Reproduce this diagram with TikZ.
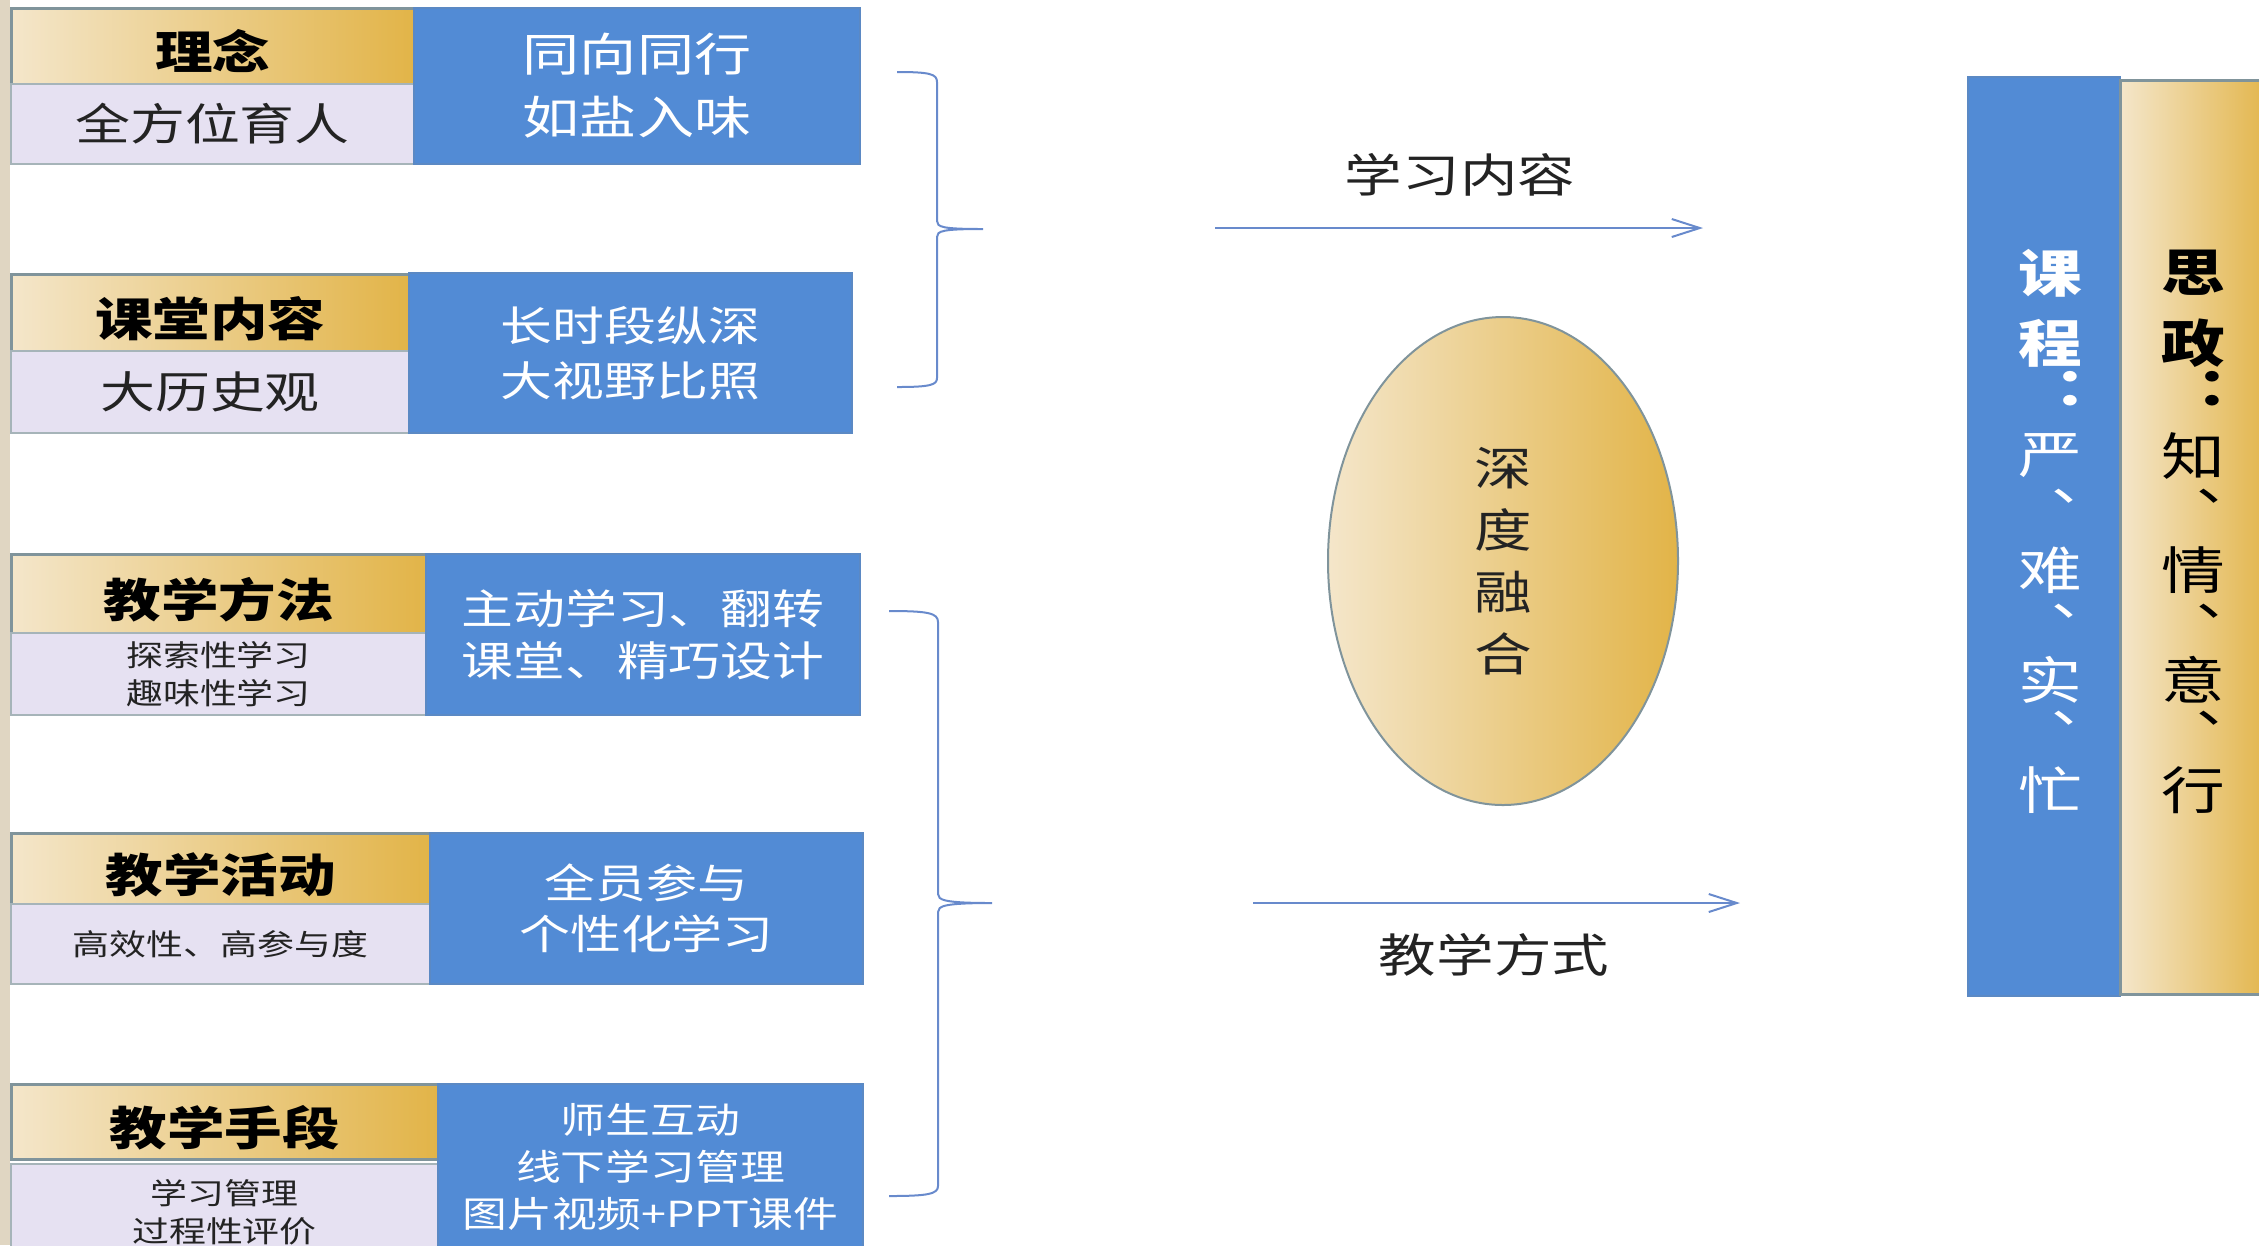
\documentclass[tikz,border=0pt]{standalone}
\usepackage{fontspec}
\newfontfamily\cjk[FakeStretch=1.25]{Noto Sans CJK SC}
\usetikzlibrary{arrows.meta, shapes.geometric}
\definecolor{goldL}{RGB}{244,230,202}
\definecolor{goldR}{RGB}{226,180,72}
\definecolor{lav}{RGB}{230,225,242}
\definecolor{tagblue}{RGB}{82,139,213}
\definecolor{edge}{RGB}{128,148,155}
\definecolor{linkblue}{RGB}{104,138,204}
\definecolor{strip}{RGB}{224,214,194}
\definecolor{ink}{RGB}{35,35,35}
\newcommand{\fz}[2]{\fontsize{#1}{#2}\selectfont}

\begin{document}
\begin{tikzpicture}[x=0.1mm, y=-0.1mm,
        hdr/.style={draw=edge, line width=0.25mm, left color=goldL, right color=goldR, anchor=north west, inner sep=0pt, text height=13.5pt, text depth=0pt, font=\cjk\bfseries\fz{13.1}{16}},
        sub/.style={draw=edge!70, line width=0.2mm, fill=lav, text=ink, anchor=north west, inner sep=0pt, align=center},
        tag/.style={draw=tagblue!80!gray, line width=0.2mm, fill=tagblue, text=white, anchor=north west, inner sep=0pt, align=center},
        glyph/.style={inner sep=0pt, font=\cjk\fz{14.5}{16}},
        brace/.style={draw=linkblue, line width=0.2mm},
        flow/.style={draw=linkblue, line width=0.2mm, -{Straight Barb[length=2.8mm, width=1.8mm]}}]
        \useasboundingbox (0,0) rectangle (2259,1245);
        \clip (0,0) rectangle (2259,1245);
        \fill[strip] (0,0) rectangle (10,1245);
        \node[hdr, minimum width=40.3mm, minimum height=7.6mm] (h1) at (10,7) {理念};
        \node[sub, minimum width=40.3mm, minimum height=8mm, font=\cjk\fz{12.5}{15}] (s1) at (10,83) {全方位育人};
        \node[tag, minimum width=44.6mm, minimum height=15.6mm, font=\cjk\fz{13}{17.9}] (t1) at (413,7) {同向同行\\如盐入味};
        \node[hdr, minimum width=39.8mm, minimum height=7.7mm] (h2) at (10,273) {课堂内容};
        \node[sub, minimum width=39.8mm, minimum height=8.2mm, font=\cjk\fz{12.5}{15}] (s2) at (10,350) {大历史观};
        \node[tag, minimum width=44.3mm, minimum height=16mm, font=\cjk\fz{11.8}{15.6}] (t2) at (408,272) {长时段纵深\\大视野比照};
        \node[hdr, minimum width=41.5mm, minimum height=7.9mm] (h3) at (10,553) {教学方法};
        \node[sub, minimum width=41.5mm, minimum height=8.2mm, font=\cjk\fz{8.4}{10.6}] (s3) at (10,632) {探索性学习\\趣味性学习};
        \node[tag, minimum width=43.4mm, minimum height=16.1mm, font=\cjk\fz{11.8}{14.8}] (t3) at (425,553) {主动学习、翻转\\课堂、精巧设计};
        \node[hdr, minimum width=41.9mm, minimum height=7.1mm] (h4) at (10,832) {教学活动};
        \node[sub, minimum width=41.9mm, minimum height=8mm, font=\cjk\fz{8.4}{10.6}] (s4) at (10,903) {高效性、高参与度};
        \node[tag, minimum width=43.3mm, minimum height=15.1mm, font=\cjk\fz{11.6}{14.5}] (t4) at (429,832) {全员参与\\个性化学习};
        \node[hdr, minimum width=42.7mm, minimum height=7.5mm] (h5) at (10,1083) {教学手段};
        \node[sub, minimum width=42.7mm, minimum height=9.6mm, font=\cjk\fz{8.4}{10.8}] (s5) at (10,1163) {学习管理\\过程性评价};
        \node[tag, minimum width=42.5mm, minimum height=16.6mm, font=\cjk\fz{10.2}{13.4}] (t5) at (437,1083) {师生互动\\线下学习管理\\图片视频+PPT课件};
        \draw[brace] (897,72) .. controls (930,72) and (937,74) .. (937,82) -- (937,221) .. controls (937,227) and (942,229) .. (983,229)
              .. controls (942,229) and (937,231) .. (937,237) -- (937,378) .. controls (937,385) and (930,387) .. (897,387);
        \draw[brace] (889,611) .. controls (928,611) and (938,613) .. (938,622) -- (938,894) .. controls (938,900) and (944,903) .. (992,903)
              .. controls (944,903) and (938,906) .. (938,912) -- (938,1186) .. controls (938,1194) and (928,1196) .. (889,1196);
        \coordinate (a1) at (1215,228);
        \coordinate (a2) at (1703,228);
        \coordinate (b1) at (1253,903);
        \coordinate (b2) at (1740,903);
        \draw[flow] (a1) -- (a2);
        \draw[flow] (b1) -- (b2);
        \node[font=\cjk\fz{13.1}{16}, text=ink] (lc) at (1460,175) {学习内容};
        \node[font=\cjk\fz{13.1}{16}, text=ink] (lm) at (1494,955) {教学方式};
        \node[ellipse, draw=edge, line width=0.2mm, left color=goldL, right color=goldR, minimum width=35mm, minimum height=48.8mm, inner sep=0pt, align=center, font=\cjk\fz{13.1}{17.6}, text=ink] (fuse) at (1503,561) {深\\度\\融\\合};
        \node[tag, minimum width=15.2mm, minimum height=91.9mm] (kc) at (1967,76) {};
        \node[hdr, minimum width=15.2mm, minimum height=91.4mm] (sz) at (2119,79) {};
        \foreach \ch/\yy [count=\i] in {课/273, 程/343}
            \node[glyph, text=white, font=\cjk\bfseries\fz{14.5}{16}] (kb\i) at (2050,\yy) {\ch};
        \node[glyph, text=white, font=\cjk\bfseries\fz{14.5}{16}] (kp) at (2086,389) {：};
        \foreach \ch/\yy [count=\i] in {严/456, 难/570, 实/680, 忙/790}
            \node[glyph, text=white] (kr\i) at (2050,\yy) {\ch};
        \foreach \yy [count=\i] in {496, 611, 718}
            \node[glyph, text=white] (kd\i) at (2083,\yy) {、};
        \foreach \ch/\yy [count=\i] in {思/273, 政/343}
            \node[glyph, text=black, font=\cjk\bfseries\fz{14.5}{16}] (sb\i) at (2193,\yy) {\ch};
        \node[glyph, text=black, font=\cjk\bfseries\fz{14.5}{16}] (sp) at (2228,389) {：};
        \foreach \ch/\yy [count=\i] in {知/456, 情/570, 意/680, 行/790}
            \node[glyph, text=black] (sr\i) at (2193,\yy) {\ch};
        \foreach \yy [count=\i] in {496, 611, 718}
            \node[glyph, text=black] (sd\i) at (2228,\yy) {、};
    \end{tikzpicture}
\end{document}
